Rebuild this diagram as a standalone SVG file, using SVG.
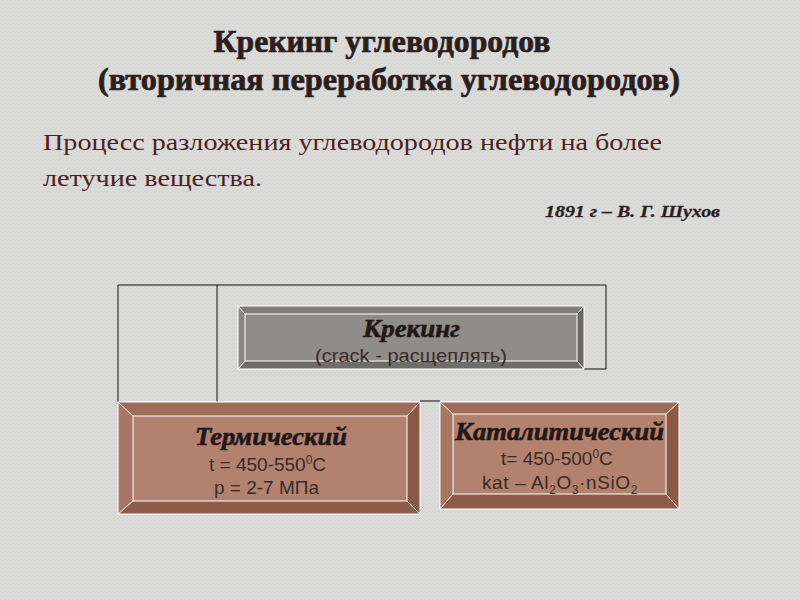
<svg xmlns="http://www.w3.org/2000/svg" width="800" height="600" viewBox="0 0 800 600">
<defs>
<pattern id="tex" width="4" height="4" patternUnits="userSpaceOnUse">
<rect width="4" height="4" fill="#dadad9"/>
<path d="M0,4L4,0" stroke="#d1d1d0" stroke-width="0.7"/>
<rect x="1" y="1" width="1" height="1" fill="#e3e3e2"/>
</pattern>
</defs>
<style>
.title{font-family:"Liberation Serif",serif;font-weight:bold;font-size:31px;fill:#2a1e1e;stroke:#2a1e1e;stroke-width:0.7;text-anchor:middle}
.para{font-family:"Liberation Serif",serif;font-size:24px;fill:#4a2222}
.auth{font-family:"Liberation Serif",serif;font-weight:bold;font-style:italic;font-size:17px;fill:#2a1f1f;stroke:#2a1f1f;stroke-width:0.3}
.head{font-family:"Liberation Serif",serif;font-weight:bold;font-style:italic;font-size:26px;fill:#221818;stroke:#221818;stroke-width:0.6}
.sub{font-family:"Liberation Sans",sans-serif;font-size:19px;fill:#3a2a26}
.sup{font-size:12px}
.conn line,.conn polyline{stroke:#111111;stroke-width:1;fill:none}
.hl{stroke:#ffffff;stroke-width:1;fill:none}
.g-face{fill:#8f8d89}.g-top{fill:#7f7d79}.g-left{fill:#8a8884}.g-right{fill:#6b6966}.g-bot{fill:#6f6d69}
.b-face{fill:#b2826f}.b-top{fill:#9e6b57}.b-left{fill:#a87663}.b-right{fill:#8a5a47}.b-bot{fill:#8e5c48}
</style>
<rect width="800" height="600" fill="url(#tex)"/>

<text class="title" x="382" y="52" textLength="337" lengthAdjust="spacingAndGlyphs">Крекинг углеводородов</text>
<text class="title" x="389" y="90" textLength="582" lengthAdjust="spacingAndGlyphs">(вторичная переработка углеводородов)</text>
<text class="para" x="43" y="150" textLength="619" lengthAdjust="spacingAndGlyphs">Процесс разложения углеводородов нефти на более</text>
<text class="para" x="43" y="186" textLength="219" lengthAdjust="spacingAndGlyphs">летучие вещества.</text>
<text class="auth" x="545" y="217" textLength="175" lengthAdjust="spacingAndGlyphs">1891 г – В. Г. Шухов</text>

<g class="conn" id="connectors">
<polyline points="118,402 118,285 606,285 606,369 584,369"/>
<line x1="217" y1="285" x2="217" y2="402"/>
<line x1="420" y1="401" x2="440" y2="401"/>
</g>

<g id="node-kreking">
<rect class="g-face" x="238" y="306" width="346" height="63"/>
<polygon class="g-top" points="238,306 584,306 577,314 245,314"/>
<polygon class="g-left" points="238,306 245,314 245,361 238,369"/>
<polygon class="g-right" points="584,306 584,369 577,361 577,314"/>
<polygon class="g-bot" points="238,369 245,361 577,361 584,369"/>
<rect class="hl" x="238" y="306" width="346" height="63"/>
<rect class="hl" x="245" y="314" width="332" height="47"/>
<path class="hl" d="M238,306L245,314M584,306L577,314M238,369L245,361M584,369L577,361"/>
<text class="head" x="363" y="337" textLength="97" lengthAdjust="spacingAndGlyphs">Крекинг</text>
<text class="sub" x="315" y="362" textLength="192" lengthAdjust="spacingAndGlyphs">(crack - расщеплять)</text>
</g>

<g id="node-termicheskiy">
<rect class="b-face" x="118" y="402" width="302" height="112"/>
<polygon class="b-top" points="118,402 420,402 407,416 133,416"/>
<polygon class="b-left" points="118,402 133,416 133,501 118,514"/>
<polygon class="b-right" points="420,402 420,514 407,501 407,416"/>
<polygon class="b-bot" points="118,514 133,501 407,501 420,514"/>
<rect class="hl" x="118" y="402" width="302" height="112"/>
<rect class="hl" x="133" y="416" width="274" height="85"/>
<path class="hl" d="M118,402L133,416M420,402L407,416M118,514L133,501M420,514L407,501"/>
<text class="head" x="195" y="445" textLength="152" lengthAdjust="spacingAndGlyphs">Термический</text>
<text class="sub" x="209" y="471">t = 450-550<tspan class="sup" dy="-7">0</tspan><tspan dy="7">C</tspan></text>
<text class="sub" x="214" y="494">p = 2-7 МПа</text>
</g>

<g id="node-kataliticheskiy">
<rect class="b-face" x="440" y="402" width="239" height="107"/>
<polygon class="b-top" points="440,402 679,402 666,414 453,414"/>
<polygon class="b-left" points="440,402 453,414 453,494 440,509"/>
<polygon class="b-right" points="679,402 679,509 666,494 666,414"/>
<polygon class="b-bot" points="440,509 453,494 666,494 679,509"/>
<rect class="hl" x="440" y="402" width="239" height="107"/>
<rect class="hl" x="453" y="414" width="213" height="80"/>
<path class="hl" d="M440,402L453,414M679,402L666,414M440,509L453,494M679,509L666,494"/>
<text class="head" x="455" y="440" textLength="209" lengthAdjust="spacingAndGlyphs">Каталитический</text>
<text class="sub" x="501" y="465">t= 450-500<tspan class="sup" dy="-7">0</tspan><tspan dy="7">C</tspan></text>
<text class="sub" x="482" y="489" letter-spacing="0.6">kat – Al<tspan class="sup" dy="5">2</tspan><tspan dy="-5">O</tspan><tspan class="sup" dy="5">3</tspan><tspan dy="-5">·nSiO</tspan><tspan class="sup" dy="5">2</tspan></text>
</g>
</svg>
